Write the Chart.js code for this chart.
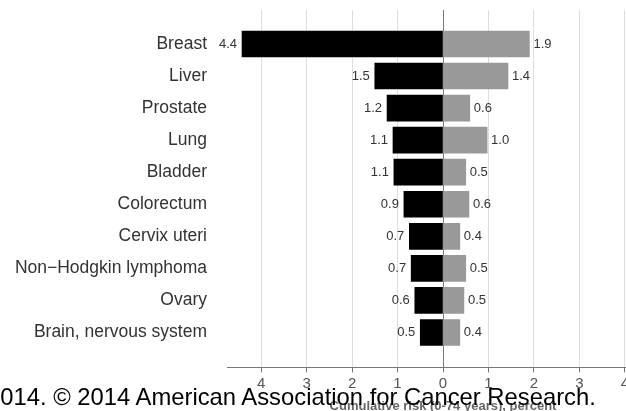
<!DOCTYPE html>
<html>
<head>
<meta charset="utf-8">
<script src="https://cdn.jsdelivr.net/npm/chart.js@4.4.1/dist/chart.umd.min.js"></script>
<style>
  html, body { margin: 0; padding: 0; background: #fff; overflow: hidden; }
  #wrap { position: relative; width: 626px; height: 411px; overflow: hidden; }
  #chartBox { position: absolute; left: 0; top: 0; width: 670px; height: 417px; }
  #credit {
    position: absolute; left: -13px; top: 385px;
    font: 23.8px 'Liberation Sans', Arial, sans-serif; line-height: 24px;
    color: #000; white-space: nowrap;
  }
</style>
</head>
<body>
<div id="wrap">
  <div id="chartBox"><canvas id="riskChart" width="670" height="417"></canvas></div>
  <div id="credit">2014. © 2014 American Association for Cancer Research.</div>
</div>
<script>
// ============ DATA ============
const cancerSites = ['Breast', 'Liver', 'Prostate', 'Lung', 'Bladder', 'Colorectum',
  'Cervix uteri', 'Non\u2212Hodgkin lymphoma', 'Ovary', 'Brain, nervous system'];
const incidence = [4.42, 1.5, 1.23, 1.1, 1.08, 0.86, 0.74, 0.7, 0.62, 0.5];
const mortality = [1.9, 1.43, 0.59, 0.97, 0.5, 0.57, 0.37, 0.5, 0.46, 0.37];
const xTicks = [-4, -3, -2, -1, 0, 1, 2, 3, 4];

const FONT = "'Liberation Sans', Arial, sans-serif";

// value labels at the end of every bar
const barValueLabels = {
  id: 'barValueLabels',
  afterDatasetsDraw(chart) {
    const ctx = chart.ctx;
    ctx.save();
    ctx.font = '13px ' + FONT;
    ctx.fillStyle = '#333';
    ctx.textBaseline = 'middle';
    chart.data.datasets.forEach((ds, di) => {
      chart.getDatasetMeta(di).data.forEach((bar, i) => {
        const v = Math.abs(ds.data[i].x).toFixed(1);
        if (ds.data[i].x < 0) {
          ctx.textAlign = 'right';
          ctx.fillText(v, bar.x - 5, bar.y);
        } else {
          ctx.textAlign = 'left';
          ctx.fillText(v, bar.x + 4, bar.y);
        }
      });
    });
    ctx.restore();
  }
};

function initRiskChart() {
  const ctx = document.getElementById('riskChart').getContext('2d');
  new Chart(ctx, {
    type: 'bar',
    data: {
      datasets: [{
        label: 'Incidence',
        data: incidence.map((v, i) => ({ x: -v, y: i })),
        backgroundColor: '#000000',
        grouped: false,
        barThickness: 26
      }, {
        label: 'Mortality',
        data: mortality.map((v, i) => ({ x: v, y: i })),
        backgroundColor: '#999999',
        grouped: false,
        barThickness: 26
      }]
    },
    options: {
      indexAxis: 'y',
      responsive: false,
      animation: false,
      layout: { padding: { top: 10, left: 13, right: 11, bottom: 0 } },
      plugins: { legend: { display: false }, tooltip: { enabled: false } },
      scales: {
        x: {
          type: 'linear',
          min: -4.75,
          max: 4.75,
          afterBuildTicks: s => { s.ticks = xTicks.map(v => ({ value: v })); },
          grid: {
            color: c => (c.tick && c.tick.value === 0) ? '#7a7a7a' : '#dedede',
            tickColor: '#777',
            tickLength: 5
          },
          border: { color: '#777' },
          ticks: {
            padding: 2,
            color: '#555',
            font: { family: FONT, size: 15 },
            callback: v => Math.abs(v)
          },
          title: {
            display: true,
            text: 'Cumulative risk (0-74 years), percent',
            color: '#666',
            font: { family: FONT, size: 13, weight: 'bold' },
            padding: { top: 4, bottom: 3 }
          }
        },
        y: {
          type: 'linear',
          reverse: true,
          offset: false,
          min: -1.06,
          max: 10.09,
          afterBuildTicks: s => { s.ticks = cancerSites.map((c, i) => ({ value: i })); },
          afterFit: s => { s.width = 214; s.paddingTop = 0; s.paddingBottom = 0; },
          grid: { display: false, drawTicks: false, offset: false },
          border: { display: false },
          ticks: {
            padding: 20,
            color: '#333',
            font: { family: FONT, size: 17.5 },
            callback: v => cancerSites[v]
          }
        }
      }
    },
    plugins: [barValueLabels]
  });
}

document.addEventListener('DOMContentLoaded', initRiskChart);
</script>
</body>
</html>
